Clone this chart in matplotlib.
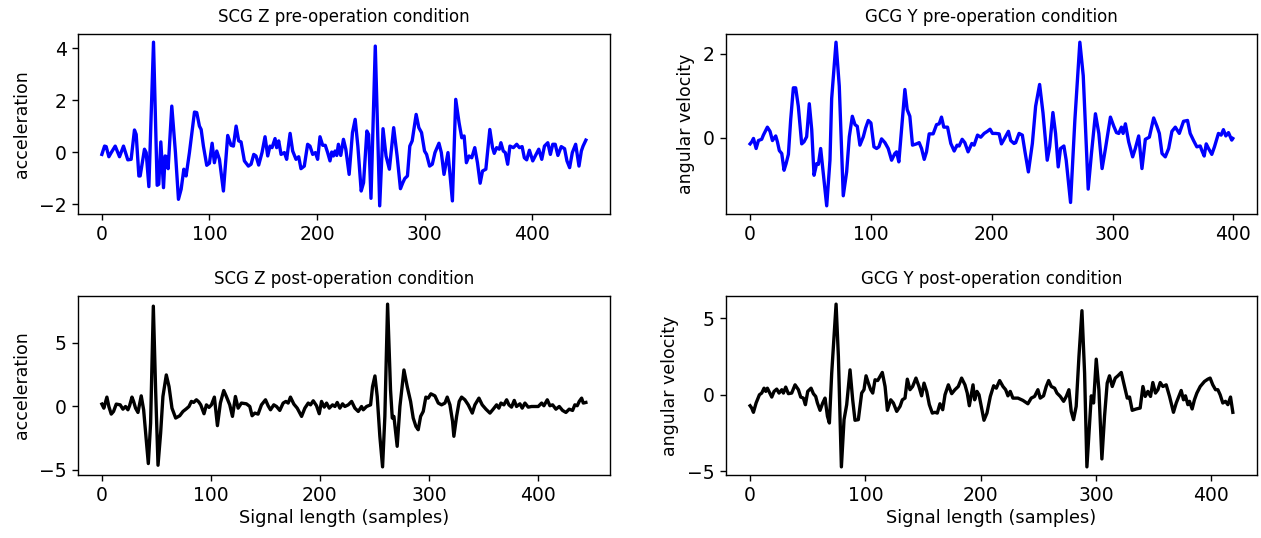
import matplotlib
matplotlib.use("Agg")
import matplotlib.pyplot as plt
from matplotlib.ticker import MultipleLocator

# SCG Z pre-operation (sample index, value)
scg_pre_x = [0, 2.5, 4.0, 6.5, 8.7, 12.4, 16.4, 20.1, 24.1, 27.2, 30.3, 31.9, 34.4, 35.6, 39.6, 41.2,
             43.7, 48.0, 51.4, 52.9, 54.8, 57.3, 58.8, 60.4, 61.6, 65.0, 68.4, 71.2, 73.7, 76.2, 78.3,
             81.4, 86.1, 88.2, 90.7, 92.3, 94.4, 97.5, 100.0, 102.5, 104.6, 106.8, 109.3, 113.0, 117.0,
             120.1, 122.3, 124.8, 127.2, 129.4, 132.5, 136.2, 138.7, 141.2, 143.3, 145.8, 148.9, 151.7,
             154.2, 156.3, 158.2, 161.0, 162.5, 164.4, 166.6, 169.7, 171.8, 175.0, 177.4, 180.5, 183.0,
             185.1, 188.2, 191.3, 193.5, 196.0, 198.5, 200.6, 202.8, 205.3, 207.7, 209.9, 212.1, 213.7,
             215.3, 216.8, 218.4, 219.9, 222.1, 224.6, 226.8, 229.9, 233.0, 235.5, 238.0, 241.1, 243.3,
             246.4, 248.0, 250.2, 254.2, 258.3, 261.4, 264.2, 267.3, 271.3, 274.5, 277.6, 279.8, 281.6,
             284.1, 286.3, 288.5, 292.2, 294.7, 297.2, 300.0, 301.9, 304.7, 307.2, 309.7, 313.4, 315.6,
             318.1, 321.8, 323.4, 325.9, 329.0, 332.1, 334.6, 336.8, 338.9, 341.4, 343.9, 346.7, 349.2,
             351.7, 353.9, 357.0, 360.7, 363.2, 364.8, 367.0, 369.5, 371.0, 373.2, 375.1, 377.3, 379.4,
             382.6, 385.7, 388.2, 390.7, 392.8, 395.0, 397.5, 400.6, 403.7, 406.2, 409.0, 411.5, 414.6,
             417.0, 419.2, 421.5, 424.0, 427.1, 430.2, 432.4, 434.9, 437.4, 440.5, 443.6, 445.8, 447.4,
             450.0]
scg_pre_y = [-0.08, 0.24, 0.22, -0.17, -0.01, 0.24, -0.17, 0.24, -0.29, -0.27, 0.86, 0.69, -0.91, -0.91,
             0.12, -0.01, -1.32, 4.24, -1.27, -1.23, 0.40, -1.36, -0.14, -0.17, -0.63, 1.78, -0.01, -1.81,
             -1.42, -0.65, -0.91, -0.01, 1.55, 1.53, 1.01, 0.88, 0.24, -0.50, -0.42, 0.35, -0.40, 0.05,
             -0.27, -1.49, 0.65, 0.27, 0.24, 1.01, 0.44, 0.40, -0.33, -0.53, -0.46, -0.08, -0.14, -0.49,
             -0.01, 0.60, -0.14, 0.24, 0.18, 0.53, 0.18, 0.44, -0.08, -0.01, -0.27, 0.73, 0.05, -0.27,
             -0.17, -0.63, -0.53, 0.31, 0.24, -0.08, -0.01, -0.27, 0.60, 0.27, 0.27, -0.01, -0.33, 0.01,
             -0.14, 0.05, -0.12, 0.31, -0.12, 0.50, 0.12, -0.85, 0.76, 1.27, 0.24, -1.49, -1.17, 0.82,
             0.69, -1.77, 4.09, -2.06, 0.91, -0.14, -0.65, 0.95, -0.14, -1.40, -1.17, -1.01, -0.91, 0.24,
             0.44, 1.46, 0.95, 0.76, 0.05, -0.08, -0.53, -0.46, -0.01, 0.35, -0.01, -0.85, -0.01, -0.72,
             -1.87, 2.04, 1.14, 0.56, 0.63, -0.40, -0.14, -0.21, 0.18, -0.40, -1.19, -0.72, -0.65, 0.88,
             0.18, -0.04, 0.18, 0.12, 0.37, 0.05, -0.01, -0.46, 0.24, 0.18, 0.31, 0.18, 0.22, -0.21, -0.29,
             0.08, -0.33, -0.08, 0.12, -0.27, 0.24, 0.37, -0.08, 0.31, 0.31, -0.12, 0.22, 0.14, -0.33,
             -0.59, -0.01, 0.31, -0.53, 0.05, 0.24, 0.47]

# GCG Y pre-operation
gcg_pre_x = [0, 1.4, 2.8, 5.0, 6.9, 9.6, 11.0, 14.3, 16.5, 18.5, 21.2, 22.6, 24.2, 26.2, 28.1, 29.8,
             31.7, 33.6, 35.8, 37.7, 39.9, 42.7, 44.6, 46.8, 49.0, 51.0, 52.9, 55.1, 56.5, 58.4, 60.6,
             63.4, 66.1, 67.5, 71.1, 73.8, 77.1, 79.9, 82.1, 84.6, 86.8, 88.7, 90.9, 93.7, 95.6, 97.8,
             100.0, 102.5, 104.7, 106.6, 108.8, 111.6, 114.3, 117.1, 119.8, 121.2, 123.1, 125.3, 128.1,
             130.0, 132.2, 134.4, 137.7, 139.9, 141.9, 144.1, 146.0, 148.2, 151.5, 154.3, 156.5, 158.4,
             160.3, 163.4, 166.1, 168.9, 171.3, 173.0, 175.5, 177.7, 180.4, 183.5, 185.4, 188.2, 190.9,
             193.7, 196.4, 198.6, 200.6, 203.3, 206.1, 208.0, 210.2, 213.8, 215.7, 218.4, 219.8, 222.6,
             225.3, 227.5, 230.3, 233.6, 236.3, 239.6, 242.4, 245.9, 247.9, 250.6, 252.8, 255.0, 256.9,
             259.7, 261.6, 265.2, 268.8, 272.9, 275.7, 279.8, 282.5, 285.8, 288.6, 291.3, 294.1, 298.2,
             301.0, 303.2, 305.1, 307.3, 308.7, 310.6, 313.3, 316.6, 318.8, 321.6, 324.3, 327.1, 330.4,
             334.0, 336.7, 338.7, 340.9, 343.6, 346.4, 349.1, 351.9, 355.2, 358.7, 362.0, 364.2, 367.0,
             369.7, 372.5, 373.9, 375.8, 377.5, 379.4, 382.1, 384.3, 387.6, 389.8, 391.7, 393.7, 395.9,
             398.6, 399.5]
gcg_pre_y = [-0.15, -0.10, -0.02, -0.26, -0.07, -0.04, 0.06, 0.25, 0.15, -0.07, 0.04, -0.10, -0.31,
             -0.38, -0.78, -0.62, -0.40, 0.43, 1.19, 1.19, 0.75, -0.15, -0.10, 0.02, 0.81, 0.19, -0.90,
             -0.62, -0.64, -0.26, -0.86, -1.63, -0.54, 0.93, 2.28, 1.23, -1.39, -0.82, 0.02, 0.51, 0.31,
             0.27, -0.18, 0.02, 0.23, 0.41, 0.35, -0.22, -0.26, -0.22, -0.03, -0.12, -0.26, -0.54, -0.38,
             -0.34, -0.58, 0.19, 1.15, 0.67, 0.51, -0.18, -0.15, -0.12, -0.26, -0.52, -0.34, 0.09, 0.09,
             0.31, 0.33, 0.49, 0.25, 0.25, -0.14, -0.32, -0.18, -0.20, -0.04, -0.12, -0.34, -0.14, -0.18,
             0.06, 0.01, 0.10, 0.15, 0.20, 0.10, 0.10, 0.09, -0.15, -0.04, 0.15, -0.07, -0.14, -0.12, 0.10,
             0.06, -0.34, -0.82, -0.14, 0.75, 1.27, 0.59, -0.54, -0.22, 0.60, 0.10, -0.70, -0.26, -0.20,
             -0.54, -1.55, 0.43, 2.28, 1.48, -1.23, -0.38, 0.57, 0.10, -0.74, -0.26, 0.49, 0.27, 0.12, 0.10,
             0.25, 0.10, 0.33, -0.10, -0.46, -0.26, 0.04, -0.74, -0.04, 0.01, 0.47, 0.27, 0.10, -0.38,
             -0.46, -0.26, 0.15, 0.25, 0.10, 0.39, 0.41, 0.10, -0.07, -0.22, -0.20, -0.31, -0.44, -0.15,
             -0.26, -0.40, -0.22, 0.10, 0.06, 0.19, 0.04, 0.12, -0.06, -0.02]

# SCG Z post-operation
scg_post_x = [0, 1.8, 4.6, 6.4, 8.6, 10.7, 13.2, 16.8, 19.3, 21.7, 23.9, 25.4, 27.6, 29.1, 30.9, 33.1,
              36.1, 38.3, 40.7, 42.6, 44.7, 47.2, 49.3, 51.5, 53.9, 56.0, 59.1, 61.6, 64.3, 67.7, 71.4,
              74.4, 77.5, 79.9, 82.1, 84.2, 86.7, 88.8, 90.7, 93.7, 95.9, 98.3, 100.5, 103.2, 106.0,
              108.7, 111.8, 114.2, 117.3, 119.8, 122.5, 125.0, 128.0, 132.6, 135.7, 137.8, 140.3, 143.3,
              146.4, 150.1, 152.5, 154.7, 157.7, 160.2, 163.2, 166.3, 168.8, 170.9, 173.0, 176.1, 179.2,
              183.2, 186.2, 189.3, 191.4, 193.9, 196.9, 199.4, 201.5, 204.0, 206.1, 208.6, 211.6, 213.8,
              215.9, 218.3, 220.8, 222.9, 226.0, 229.1, 232.1, 235.2, 238.2, 239.8, 242.8, 246.5, 248.3,
              250.5, 252.6, 255.0, 257.5, 259.6, 262.1, 264.8, 266.4, 267.9, 270.9, 273.4, 277.1, 280.1,
              283.2, 285.6, 288.1, 290.2, 292.4, 294.8, 297.2, 299.4, 301.8, 305.5, 308.6, 311.6, 314.7,
              316.8, 319.3, 321.7, 322.9, 325.4, 327.8, 330.0, 333.0, 336.1, 339.8, 342.2, 345.9, 348.9,
              352.3, 356.0, 359.0, 362.1, 364.2, 366.1, 368.8, 371.3, 373.4, 375.8, 378.3, 380.4, 383.5,
              385.6, 388.1, 391.1, 394.2, 397.2, 400.3, 403.4, 405.5, 408.6, 411.0, 413.5, 416.5, 419.6,
              422.6, 425.7, 428.7, 431.8, 433.9, 436.1, 437.9, 440.1, 441.6, 444.0]
scg_post_y = [0.16, -0.16, 0.71, -0.03, -0.63, -0.42, 0.16, 0.10, -0.24, -0.03, -0.29, 0.03, 0.71, 0.37,
              -0.16, -0.50, 0.81, -0.29, -2.64, -4.53, -1.34, 7.88, 1.28, -4.66, -2.12, 0.76, 2.46, 1.54,
              -0.16, -0.94, -0.76, -0.42, -0.21, -0.03, 0.37, 0.29, 0.50, 0.34, 0.10, -0.60, 0.10, -0.10,
              0.10, 0.71, -1.54, 0.24, 1.23, 0.76, 0.10, -0.81, 0.76, -0.16, 0.24, 0.18, -0.03, -0.76,
              -0.55, -0.63, 0.10, 0.50, 0.03, -0.29, 0.10, -0.03, -0.34, 0.24, 0.37, 0.24, 0.71, 0.16,
              -0.16, -0.81, -0.16, 0.24, 0.10, 0.42, 0.03, -0.60, 0.37, -0.08, 0.24, -0.16, 0.10, -0.03,
              0.29, -0.16, 0.18, -0.03, 0.10, 0.37, -0.16, -0.42, -0.03, -0.29, -0.03, 0.10, 1.54, 2.38,
              0.76, -2.38, -4.79, -0.81, 8.04, 1.28, -0.94, -0.81, -3.17, -0.03, 2.85, 1.54, 0.37, -0.94,
              -1.60, -1.86, -0.81, -0.42, 0.71, 0.63, 0.97, 0.81, 0.24, 0.10, 0.24, 0.71, 0.10, -1.20,
              -2.38, -0.81, 0.37, 0.71, 0.50, 0.10, -0.55, 0.10, 0.63, 0.10, -0.24, -0.55, -0.24, 0.10,
              -0.16, 0.24, 0.10, 0.50, 0.10, -0.08, 0.45, -0.03, 0.18, -0.16, 0.24, -0.08, -0.03, -0.03,
              -0.03, 0.24, 0.03, 0.50, 0.03, 0.10, -0.24, -0.03, -0.34, -0.50, -0.24, -0.34, 0.10, 0.03,
              0.37, 0.63, 0.24, 0.29]

# GCG Y post-operation
gcg_post_x = [0, 1.4, 2.9, 5.2, 8.1, 10.1, 12.1, 13.6, 15.0, 16.8, 18.8, 20.8, 23.1, 25.1, 27.5, 28.9,
              30.9, 33.2, 36.1, 39.0, 41.9, 43.9, 46.2, 48.0, 50.0, 52.9, 54.9, 56.9, 58.4, 60.7, 63.0,
              65.0, 67.1, 68.8, 70.8, 74.6, 76.6, 79.2, 81.5, 83.8, 86.7, 89.0, 91.0, 93.9, 96.8, 98.8,
              100.6, 102.6, 104.6, 106.4, 108.4, 110.7, 112.7, 114.7, 117.1, 119.1, 122.0, 124.3, 127.2,
              130.1, 132.1, 134.4, 136.4, 138.7, 141.0, 143.9, 146.5, 148.8, 150.9, 153.2, 155.5, 158.1,
              160.4, 162.4, 164.7, 167.1, 169.1, 172.0, 174.9, 177.7, 180.6, 183.5, 186.4, 188.4, 190.2,
              193.4, 194.8, 196.8, 198.6, 200.0, 202.9, 205.5, 208.4, 211.3, 213.6, 216.5, 219.4, 221.7,
              223.7, 225.7, 228.0, 232.4, 236.7, 241.0, 243.9, 246.8, 249.7, 251.7, 254.6, 256.9, 259.0,
              261.3, 264.2, 266.2, 269.1, 272.0, 274.3, 276.6, 278.6, 280.6, 282.9, 285.3, 287.9, 290.2,
              292.2, 294.5, 296.0, 298.0, 300.3, 302.6, 305.2, 307.5, 309.8, 311.8, 314.2, 316.8, 319.1,
              322.0, 324.9, 327.2, 329.2, 331.5, 335.0, 338.4, 340.8, 342.8, 345.1, 347.4, 349.4, 351.7,
              353.8, 355.8, 358.1, 361.0, 363.9, 367.3, 369.7, 372.0, 374.0, 376.0, 377.7, 379.8, 381.2,
              383.5, 385.5, 387.6, 390.5, 394.2, 397.1, 399.1, 401.4, 403.8, 405.8, 407.8, 410.1, 412.4,
              414.5, 416.8, 418.8]
gcg_post_y = [-0.72, -0.87, -1.15, -0.54, 0.00, 0.11, 0.43, 0.22, 0.43, 0.15, -0.15, 0.22, 0.37, 0.11,
              0.33, 0.11, 0.50, 0.07, 0.11, 0.65, 0.33, -0.15, -0.22, -0.65, 0.22, 0.43, 0.07, -0.11,
              -0.54, -1.02, -0.54, -0.22, -1.41, -1.85, 1.41, 5.93, 2.50, -4.72, -1.63, -0.65, 1.63,
              -0.33, -1.67, -1.63, 0.11, 0.33, 1.24, 0.76, 0.33, 0.11, 0.98, 0.93, 1.20, 1.46, 0.54,
              -1.02, -0.33, -0.54, -1.09, -0.76, -0.33, -0.22, 1.02, 0.33, 0.54, 1.09, 0.54, -0.07, 0.76,
              0.22, -0.65, -1.20, -1.15, -1.20, -0.59, -0.98, 0.00, 0.65, 0.07, 0.33, 0.54, 1.09, 0.65,
              0.11, -0.72, 0.65, -0.33, 0.22, 0.00, -0.54, -1.67, -1.20, -0.11, 0.59, 0.43, 0.93, 0.54,
              0.33, -0.07, 0.22, -0.22, -0.22, -0.37, -0.59, -0.22, -0.11, 0.33, -0.22, -0.07, 0.54, 0.93,
              0.54, 0.43, 0.11, -0.11, -0.43, -0.11, 0.33, -1.09, -1.63, -0.76, 2.50, 5.50, 1.41, -4.72,
              -1.85, -0.07, -0.54, 2.33, 0.33, -4.20, -1.41, 0.76, 1.24, 0.54, 1.09, 1.24, 1.46, 0.54,
              -0.22, -0.15, -1.02, -0.93, -0.87, 0.54, -0.11, 0.22, -0.11, 0.80, 0.11, 0.33, 0.80, 0.54,
              0.65, -0.11, -1.15, -0.54, -0.11, 0.28, -0.33, -0.07, -0.65, -0.43, -0.93, -0.33, 0.11,
              0.54, 0.87, 1.02, 1.09, 0.65, 0.33, 0.33, 0.00, -0.54, -0.43, -0.65, -0.15, -1.15]

fig = plt.figure(figsize=(12.61, 5.38), dpi=100)

panels = [
    ([0.0616, 0.6022, 0.4222, 0.3346], scg_pre_x, scg_pre_y, "blue", "SCG Z pre-operation condition", "acceleration", None, 2),
    ([0.5757, 0.6022, 0.4211, 0.3346], gcg_pre_x, gcg_pre_y, "blue", "GCG Y pre-operation condition", "angular velocity", None, 2),
    ([0.0616, 0.1171, 0.4222, 0.3327], scg_post_x, scg_post_y, "black", "SCG Z post-operation condition", "acceleration", "Signal length (samples)", 5),
    ([0.5757, 0.1171, 0.4211, 0.3327], gcg_post_x, gcg_post_y, "black", "GCG Y post-operation condition", "angular velocity", "Signal length (samples)", 5),
]

for rect, xs, ys, col, title, ylab, xlab, ystep in panels:
    ax = fig.add_axes(rect)
    ax.plot(xs, ys, color=col, lw=2.4, solid_joinstyle="round")
    ax.set_title(title, fontsize=12, pad=9)
    ax.set_ylabel(ylab, fontsize=12.5, labelpad=6)
    if xlab:
        ax.set_xlabel(xlab, fontsize=12.8, labelpad=3)
    ax.xaxis.set_major_locator(MultipleLocator(100))
    ax.yaxis.set_major_locator(MultipleLocator(ystep))
    ax.tick_params(labelsize=13.5, length=4.5, width=1.0)
    for sp in ax.spines.values():
        sp.set_linewidth(1.0)

fig.savefig("out.png", dpi=100)
